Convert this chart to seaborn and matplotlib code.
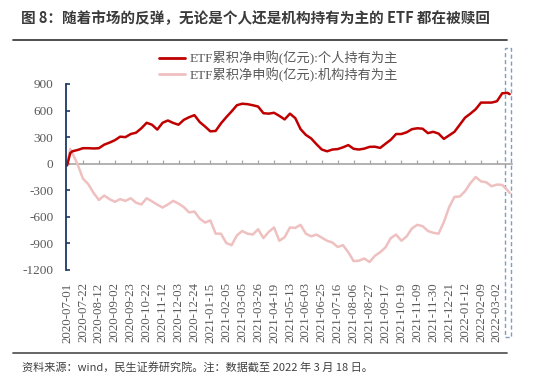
import matplotlib
matplotlib.use("Agg")
import matplotlib.pyplot as plt
import seaborn as sns
import pandas as pd
from matplotlib.patches import Rectangle
from matplotlib.lines import Line2D
import matplotlib.transforms as mtransforms

sns.set_theme(style="white")
plt.rcParams["font.family"] = ["Liberation Serif", "Noto Sans CJK SC"]

# ---- data (trading-day index since 2020-07-01, values in 亿元) ----
day = [0, 3, 5, 10, 15, 20, 25, 30, 35, 40, 45, 50, 55, 60, 65, 70, 75, 80, 85, 90,
       95, 100, 105, 110, 115, 120, 125, 130, 135, 140, 145, 150, 155, 160, 165, 170,
       175, 180, 185, 190, 195, 200, 205, 210, 215, 220, 225, 230, 235, 240, 245, 250,
       255, 260, 265, 270, 275, 280, 285, 290, 295, 300, 305, 310, 315, 320, 325, 330,
       335, 340, 345, 350, 355, 360, 365, 370, 375, 380, 385, 390, 395, 400, 405, 410,
       415, 417]
individual = [-20, 120, 140, 155, 175, 175, 172, 175, 215, 238, 265, 305, 300, 335, 350,
              400, 462, 440, 385, 462, 488, 460, 440, 495, 525, 548, 470, 420, 365, 370,
              455, 525, 590, 660, 677, 672, 660, 645, 570, 565, 575, 540, 500, 565, 515,
              390, 325, 285, 220, 160, 140, 160, 165, 185, 210, 168, 160, 170, 190, 192,
              178, 225, 270, 335, 335, 355, 390, 400, 395, 345, 360, 340, 280, 320, 360,
              440, 520, 565, 615, 690, 690, 690, 705, 795, 800, 785]
institution = [-10, 166, 120, -10, -170, -230, -330, -410, -360, -400, -430, -400, -420,
               -390, -440, -460, -390, -425, -462, -495, -460, -420, -450, -490, -550,
               -540, -620, -665, -640, -790, -790, -895, -920, -810, -760, -790, -800,
               -740, -840, -770, -720, -870, -830, -720, -725, -690, -790, -820, -800,
               -835, -870, -890, -940, -920, -1000, -1100, -1095, -1070, -1110, -1040,
               -1000, -945, -840, -800, -870, -820, -730, -690, -705, -760, -780, -790,
               -660, -490, -375, -370, -310, -220, -150, -200, -210, -255, -235, -240,
               -300, -330]
series_names = ["ETF累积净申购(亿元):个人持有为主", "ETF累积净申购(亿元):机构持有为主"]
tick_labels = ["2020-07-01", "2020-07-22", "2020-08-12", "2020-09-02", "2020-09-23",
               "2020-10-22", "2020-11-12", "2020-12-03", "2020-12-24", "2021-01-15",
               "2021-02-05", "2021-03-05", "2021-03-26", "2021-04-19", "2021-05-13",
               "2021-06-03", "2021-06-25", "2021-07-16", "2021-08-06", "2021-08-27",
               "2021-09-17", "2021-10-19", "2021-11-09", "2021-11-30", "2021-12-21",
               "2022-01-12", "2022-02-09", "2022-03-02"]
tick_step = 15  # trading days between labels
y_min, y_max = -1200, 900
y_ticks = [-1200, -900, -600, -300, 0, 300, 600, 900]

title = "图 8：随着市场的反弹，无论是个人还是机构持有为主的 ETF 都在被赎回"
footer = "资料来源：wind，民生证券研究院。注：数据截至 2022 年 3 月 18 日。"

df = pd.DataFrame({
    "day": day + day,
    "value": individual + institution,
    "series": [series_names[0]] * len(day) + [series_names[1]] * len(day),
})

DARK = "#C00000"
PINK = "#EFC0C0"
GREY_TXT = "#595959"
NAVY = "#1F3864"
SERIF = ["Liberation Serif", "Noto Sans CJK SC"]

fig = plt.figure(figsize=(5.5, 3.8), dpi=100)
ax = fig.add_axes([0.12, 0.2895, 0.8105, 0.4895])

sns.lineplot(data=df, x="day", y="value", hue="series", hue_order=series_names[::-1],
             palette=[PINK, DARK], linewidth=1.8, ax=ax, legend=False)

ax.set_xlim(-1, day[-1] + 2)
ax.set_ylim(y_min, y_max)
ax.set_xlabel("")
ax.set_ylabel("")

tick_pos = [i * tick_step for i in range(len(tick_labels))]
ax.set_xticks(tick_pos)
ax.set_xticklabels(tick_labels, rotation=90, fontsize=9.3, color=GREY_TXT,
                   fontfamily=SERIF)
ax.tick_params(axis="x", length=0, pad=9)
ax.set_yticks(y_ticks)
ax.set_yticklabels([str(v) for v in y_ticks], fontsize=9.5, color=GREY_TXT,
                   fontfamily=SERIF)
ax.tick_params(axis="y", direction="in", length=3, width=1.2, color=NAVY, pad=9, left=True)

for s in ["top", "right", "bottom"]:
    ax.spines[s].set_visible(False)
ax.spines["left"].set_color(NAVY)
ax.spines["left"].set_linewidth(1.3)

# zero axis with small tick marks
zero_loc = (0 - y_min) / (y_max - y_min)
secax = ax.secondary_xaxis(zero_loc)
secax.set_xticks(tick_pos)
secax.tick_params(axis="x", direction="out", length=3, width=0.9, color="#A6A6A6",
                  labeltop=False, labelbottom=False)
for s in secax.spines.values():
    s.set_color("#A6A6A6")
    s.set_linewidth(1.2)
secax.set_zorder(0.5)
ax.set_zorder(1)
ax.patch.set_visible(False)

# legend
handles = [Line2D([], [], color=DARK, lw=2.0), Line2D([], [], color=PINK, lw=2.0)]
ax.legend(handles, series_names, loc="upper left", bbox_to_anchor=(0.289, 0.866),
          bbox_transform=fig.transFigure, frameon=False,
          prop={"family": SERIF, "size": 9.5},
          handlelength=2.0, handletextpad=0.35, labelspacing=0.15, borderpad=0,
          borderaxespad=0, labelcolor=GREY_TXT)

# dashed highlight box around the latest days
trans = mtransforms.blended_transform_factory(ax.transData, fig.transFigure)
box = Rectangle((day[-1] - 4.5, 1 - 337 / 380), 6.0, (337 - 48) / 380, transform=trans,
                fill=False, edgecolor="#7F9CC2", lw=1.0, linestyle=(0, (3, 2)),
                clip_on=False)
fig.add_artist(box)

# title, rules, footer
fig.text(21 / 550, 1 - 18 / 380, title, fontsize=10.5, fontweight="bold",
         family=["Noto Sans CJK SC"], color="#3A3A3A", va="center", ha="left")
fig.add_artist(Line2D([13 / 550, 507 / 550], [1 - 40 / 380] * 2, transform=fig.transFigure,
                      color="#404040", lw=1.3))
fig.add_artist(Line2D([13 / 550, 507 / 550], [1 - 353 / 380] * 2, transform=fig.transFigure,
                      color="#595959", lw=1.3))
fig.text(22 / 550, 1 - 368 / 380, footer, fontsize=8, family=["Noto Sans CJK SC"],
         color="#404040", va="center", ha="left")

fig.savefig("out.png", dpi=100)
